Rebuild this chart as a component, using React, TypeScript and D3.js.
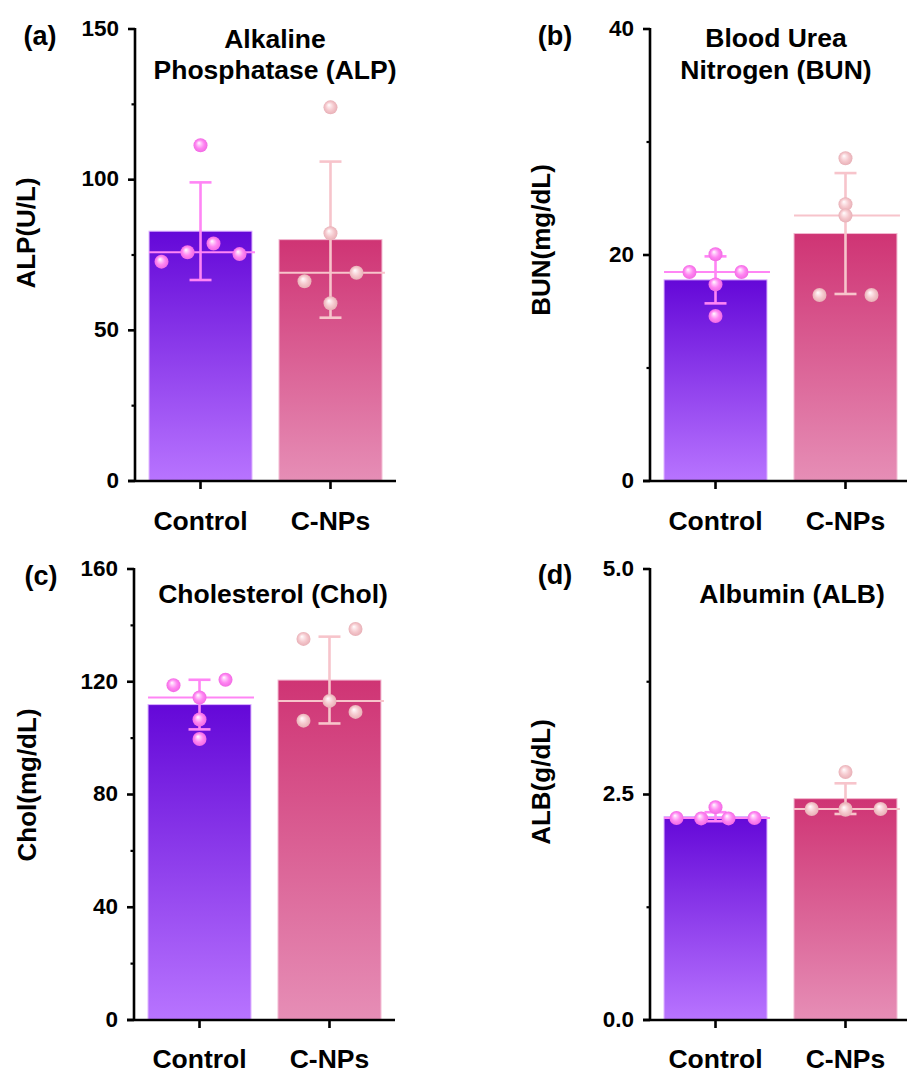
import React from "react";
import * as d3 from "d3";

const categories = ["Control", "C-NPs"];

// (a) Alkaline Phosphatase
const alpControl = [111.4, 72.8, 75.9, 78.8, 75.3];
const alpCNPs = [124.0, 82.2, 66.3, 69.1, 59.0];
const alpControlJitter = [0, -3, -1, 1, 3];
const alpCNPsJitter = [0, 0, -2, 2, 0];
const alpMeans = [82.9, 80.1];
const alpSDs = [16.2, 25.9];
const alpTicks = [0, 50, 100, 150];

// (b) Blood Urea Nitrogen
const bunControl = [20.06, 18.5, 18.5, 17.4, 14.6];
const bunCNPs = [28.56, 24.5, 23.5, 16.46, 16.46];
const bunControlJitter = [0, -2, 2, 0, 0];
const bunCNPsJitter = [0, 0, 0, -2, 2];
const bunMeans = [17.8, 21.9];
const bunSDs = [2.08, 5.35];
const bunTicks = [0, 20, 40];

// (c) Cholesterol
const cholControl = [118.8, 120.7, 114.4, 106.6, 99.7];
const cholCNPs = [135.2, 138.7, 113.2, 106.2, 109.3];
const cholControlJitter = [-2, 2, 0, 0, 0];
const cholCNPsJitter = [-2, 2, 0, -2, 2];
const cholMeans = [111.9, 120.6];
const cholSDs = [8.8, 15.4];
const cholTicks = [0, 40, 80, 120, 160];

// (d) Albumin
const albControl = [2.24, 2.235, 2.36, 2.235, 2.24];
const albCNPs = [2.75, 2.34, 2.34, 2.34, 2.33];
const albControlJitter = [-3, -1.1, 0, 1, 3];
const albCNPsJitter = [0, -2.6, 0, 2.7, 0];
const albMeans = [2.254, 2.454];
const albSDs = [0.05, 0.17];
const albTicks = [0, 2.5, 5.0];

const FONT = "'Liberation Sans', Arial, Helvetica, sans-serif";

type PanelCfg = {
  label: string;
  axisX: number;
  top: number;
  bottom: number;
  ticks: number[];
  fmt: (v: number) => string;
  title: string[];
  titleX: number;
  titleY: number[];
  labelX: number;
  labelY: number;
  yTitle: string;
  yTitleX: number;
  yTitleY: number;
  catY: number;
  groups: number[][];
  jitters: number[][];
  means: number[];
  sds: number[];
};

const panels: PanelCfg[] = [
  {
    label: "(a)", axisX: 135, top: 29, bottom: 481, ticks: alpTicks, fmt: d3.format("d"),
    title: ["Alkaline", "Phosphatase (ALP)"], titleX: 275, titleY: [48, 79],
    labelX: 40, labelY: 45, yTitle: "ALP(U/L)", yTitleX: 35, yTitleY: 233, catY: 530,
    groups: [alpControl, alpCNPs], jitters: [alpControlJitter, alpCNPsJitter],
    means: alpMeans, sds: alpSDs,
  },
  {
    label: "(b)", axisX: 650, top: 29, bottom: 481, ticks: bunTicks, fmt: d3.format("d"),
    title: ["Blood Urea", "Nitrogen (BUN)"], titleX: 776, titleY: [47, 79],
    labelX: 555, labelY: 45, yTitle: "BUN(mg/dL)", yTitleX: 550, yTitleY: 240, catY: 530,
    groups: [bunControl, bunCNPs], jitters: [bunControlJitter, bunCNPsJitter],
    means: bunMeans, sds: bunSDs,
  },
  {
    label: "(c)", axisX: 134, top: 569, bottom: 1020, ticks: cholTicks, fmt: d3.format("d"),
    title: ["Cholesterol (Chol)"], titleX: 273, titleY: [603],
    labelX: 41, labelY: 585, yTitle: "Chol(mg/dL)", yTitleX: 36, yTitleY: 785, catY: 1068,
    groups: [cholControl, cholCNPs], jitters: [cholControlJitter, cholCNPsJitter],
    means: cholMeans, sds: cholSDs,
  },
  {
    label: "(d)", axisX: 650, top: 569, bottom: 1020, ticks: albTicks, fmt: d3.format(".1f"),
    title: ["Albumin (ALB)"], titleX: 792, titleY: [603],
    labelX: 555, labelY: 584, yTitle: "ALB(g/dL)", yTitleX: 550, yTitleY: 782, catY: 1068,
    groups: [albControl, albCNPs], jitters: [albControlJitter, albCNPsJitter],
    means: albMeans, sds: albSDs,
  },
];

const barFill = ["url(#gradCtrl)", "url(#gradCNP)"];
const barStroke = ["#dcb0ff", "#f2b8d0"];
const errColor = ["#ff85f5", "#f7c4cb"];
const dotFill = ["url(#sphCtrl)", "url(#sphCNP)"];

function Panel({ cfg }: { cfg: PanelCfg }) {
  const y = d3.scaleLinear().domain([cfg.ticks[0], cfg.ticks[cfg.ticks.length - 1]]).range([cfg.bottom, cfg.top]);
  const x = d3
    .scaleBand<string>()
    .domain(categories)
    .range([cfg.axisX, cfg.axisX + 261])
    .paddingInner(0.208)
    .paddingOuter(0.108);
  const bw = x.bandwidth();
  const minors = cfg.ticks.slice(1).map((t, i) => (t + cfg.ticks[i]) / 2);
  const jitUnit = 13;
  const capHalf = 11;

  return (
    <g>
      {categories.map((c, i) => (
        <rect
          key={"bar" + c}
          x={x(c)}
          y={y(cfg.means[i])}
          width={bw}
          height={y(0) - y(cfg.means[i])}
          fill={barFill[i]}
          stroke={barStroke[i]}
          strokeWidth={1}
        />
      ))}
      {categories.map((c, i) => {
        const m = d3.median(cfg.groups[i]) as number;
        return (
          <line
            key={"med" + c}
            x1={x(c)!}
            x2={x(c)! + bw + 3}
            y1={y(m)}
            y2={y(m)}
            stroke={errColor[i]}
            strokeWidth={2}
          />
        );
      })}
      {categories.map((c, i) => {
        const cx = x(c)! + bw / 2;
        const hi = y(cfg.means[i] + cfg.sds[i]);
        const lo = y(cfg.means[i] - cfg.sds[i]);
        return (
          <g key={"err" + c} stroke={errColor[i]} strokeWidth={2.6}>
            <line x1={cx} x2={cx} y1={hi} y2={lo} />
            <line x1={cx - capHalf} x2={cx + capHalf} y1={hi} y2={hi} />
            <line x1={cx - capHalf} x2={cx + capHalf} y1={lo} y2={lo} />
          </g>
        );
      })}
      {categories.map((c, i) =>
        cfg.groups[i].map((v, j) => (
          <circle
            key={"pt" + c + j}
            cx={x(c)! + bw / 2 + cfg.jitters[i][j] * jitUnit}
            cy={y(v)}
            r={7}
            fill={dotFill[i]}
          />
        ))
      )}
      <line x1={cfg.axisX} x2={cfg.axisX} y1={cfg.top - 1} y2={cfg.bottom} stroke="#000" strokeWidth={2.6} />
      {cfg.ticks.map((t) => (
        <g key={"yt" + t}>
          <line x1={cfg.axisX - 7} x2={cfg.axisX} y1={y(t)} y2={y(t)} stroke="#000" strokeWidth={2.6} />
          <text
            x={cfg.axisX - 16}
            y={y(t)}
            dy="0.3em"
            textAnchor="end"
            fontFamily={FONT}
            fontWeight="bold"
            fontSize={22.5}
            fill="#000"
          >
            {cfg.fmt(t)}
          </text>
        </g>
      ))}
      {minors.map((t) => (
        <line key={"mt" + t} x1={cfg.axisX - 3.5} x2={cfg.axisX} y1={y(t)} y2={y(t)} stroke="#000" strokeWidth={2.2} />
      ))}
      <line x1={cfg.axisX - 7} x2={cfg.axisX + 261} y1={y(0)} y2={y(0)} stroke="#000" strokeWidth={2.6} />
      {categories.map((c) => (
        <g key={"xt" + c}>
          <line
            x1={x(c)! + bw / 2}
            x2={x(c)! + bw / 2}
            y1={y(0)}
            y2={y(0) + 8}
            stroke="#000"
            strokeWidth={2.6}
          />
          <text
            x={x(c)! + bw / 2}
            y={cfg.catY}
            textAnchor="middle"
            fontFamily={FONT}
            fontWeight="bold"
            fontSize={26.5}
            fill="#000"
          >
            {c}
          </text>
        </g>
      ))}
      {cfg.title.map((t, k) => (
        <text
          key={"ti" + k}
          x={cfg.titleX}
          y={cfg.titleY[k]}
          textAnchor="middle"
          fontFamily={FONT}
          fontWeight="bold"
          fontSize={26.5}
          fill="#000"
        >
          {t}
        </text>
      ))}
      <text x={cfg.labelX} y={cfg.labelY} textAnchor="middle" fontFamily={FONT} fontWeight="bold" fontSize={27} fill="#000">
        {cfg.label}
      </text>
      <text
        transform={`translate(${cfg.yTitleX},${cfg.yTitleY}) rotate(-90)`}
        textAnchor="middle"
        fontFamily={FONT}
        fontWeight="bold"
        fontSize={26}
        fill="#000"
      >
        {cfg.yTitle}
      </text>
    </g>
  );
}

export default function App() {
  return (
    <div style={{ position: "absolute", left: 0, top: 0 }}>
      <svg width={907} height={1074} viewBox="0 0 907 1074" style={{ display: "block", background: "#fff" }}>
        <defs>
          <linearGradient id="gradCtrl" x1="0" y1="0" x2="0" y2="1">
            <stop offset="0%" stopColor="#6408d8" />
            <stop offset="100%" stopColor="#b874ff" />
          </linearGradient>
          <linearGradient id="gradCNP" x1="0" y1="0" x2="0" y2="1">
            <stop offset="0%" stopColor="#cf3474" />
            <stop offset="100%" stopColor="#e68eb6" />
          </linearGradient>
          <radialGradient id="sphCtrl" cx="50%" cy="50%" r="50%" fx="38%" fy="32%">
            <stop offset="0%" stopColor="#ffffff" />
            <stop offset="25%" stopColor="#ffc8fa" />
            <stop offset="60%" stopColor="#ff86f2" />
            <stop offset="100%" stopColor="#f26ae4" />
          </radialGradient>
          <radialGradient id="sphCNP" cx="50%" cy="50%" r="50%" fx="38%" fy="32%">
            <stop offset="0%" stopColor="#ffffff" />
            <stop offset="25%" stopColor="#fce6e9" />
            <stop offset="60%" stopColor="#f5c8cd" />
            <stop offset="100%" stopColor="#e8b0b7" />
          </radialGradient>
        </defs>
        {panels.map((p) => (
          <Panel key={p.label} cfg={p} />
        ))}
      </svg>
    </div>
  );
}
